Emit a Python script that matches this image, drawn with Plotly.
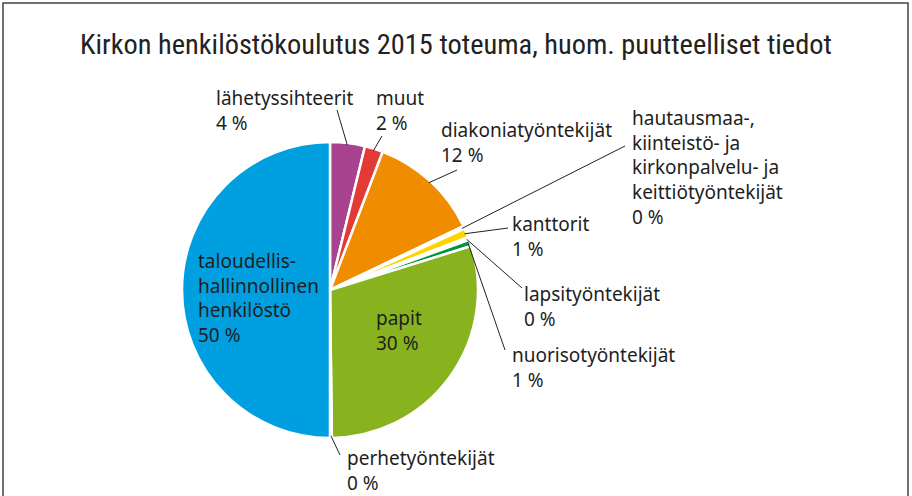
import math
import plotly.graph_objects as go

W, H = 912, 496

# ---- data ----
categories = [
    "lähetyssihteerit", "muut", "diakoniatyöntekijät",
    "hautausmaa-, kiinteistö- ja kirkonpalvelu- ja keittiötyöntekijät",
    "kanttorit", "lapsityöntekijät", "nuorisotyöntekijät", "papit",
    "perhetyöntekijät", "taloudellis-hallinnollinen henkilöstö",
]
values = [3.8, 2.0, 12.1, 0.3, 1.0, 0.3, 0.7, 29.6, 0.2, 50.0]
pct_labels = ["4 %", "2 %", "12 %", "0 %", "1 %", "0 %", "1 %", "30 %", "0 %", "50 %"]
label_texts = [
    "lähetyssihteerit", "muut", "diakoniatyöntekijät",
    "hautausmaa-,<br>kiinteistö- ja<br>kirkonpalvelu- ja<br>keittiötyöntekijät",
    "kanttorit", "lapsityöntekijät", "nuorisotyöntekijät", "papit",
    "perhetyöntekijät", "taloudellis-<br>hallinnollinen<br>henkilöstö",
]
colors = ["#A7438F", "#E43A35", "#F08C00", "#FFFFFF", "#FFD500",
          "#FFFFFF", "#00963F", "#88B31F", "#FFFFFF", "#009FE0"]

# label placement (pixels: left, top) and leader line outer end (or None)
label_pos = [(214, 83), (374, 83), (439, 115), (630, 103), (510, 209),
             (522, 279), (510, 340), (374, 303), (345, 443), (196, 246)]
leader_out = [(337, 110), (382, 136), (457, 170), (625, 146), (508, 228),
              (522, 288), (505, 350), None, (340, 455), None]

# pie geometry in pixels
cx, cy, r = 330, 290, 148

def px(x):
    return x / W

def py(y):
    return 1 - y / H

fig = go.Figure(go.Pie(
    labels=categories, values=values, sort=False, direction="clockwise",
    rotation=0, textinfo="none", hoverinfo="label+percent",
    marker=dict(colors=colors, line=dict(color="white", width=2.5)),
    domain=dict(x=[px(cx - r), px(cx + r)], y=[py(cy + r), py(cy - r)]),
    showlegend=False,
))

total = sum(values)
cum = 0.0
shapes = [dict(type="rect", xref="paper", yref="paper",
               x0=px(3), x1=px(908), y0=py(520), y1=py(3),
               line=dict(color="#444444", width=1.5))]
annotations = []
for i, v in enumerate(values):
    mid = (cum + v / 2) / total * 2 * math.pi
    cum += v
    lx, ly = label_pos[i]
    annotations.append(dict(
        x=px(lx), y=py(ly), xref="paper", yref="paper",
        xanchor="left", yanchor="top", align="left", showarrow=False,
        text=label_texts[i] + "<br>" + pct_labels[i],
        font=dict(family="Noto Sans, Open Sans, sans-serif", size=19, color="#1e1e1e"),
    ))
    if leader_out[i] is not None:
        rr = r * 0.985
        ix = cx + rr * math.sin(mid)
        iy = cy - rr * math.cos(mid)
        ox, oy = leader_out[i]
        shapes.append(dict(type="line", xref="paper", yref="paper",
                           x0=px(ix), y0=py(iy), x1=px(ox), y1=py(oy),
                           line=dict(color="#222222", width=1)))

fig.update_layout(
    width=W, height=H, margin=dict(l=0, r=0, t=0, b=0),
    paper_bgcolor="white", plot_bgcolor="white",
    title=dict(text="Kirkon henkilöstökoulutus 2015 toteuma, huom. puutteelliset tiedot",
               x=0.5, xanchor="center", y=py(44), yanchor="middle",
               font=dict(family="Liberation Sans Narrow, Roboto Condensed, sans-serif",
                         size=28.4, color="#222222")),
    shapes=shapes, annotations=annotations,
)

fig.write_html("out.html", config={"displayModeBar": False},
               post_script="document.body.style.margin='0px';document.body.style.overflow='hidden';")
